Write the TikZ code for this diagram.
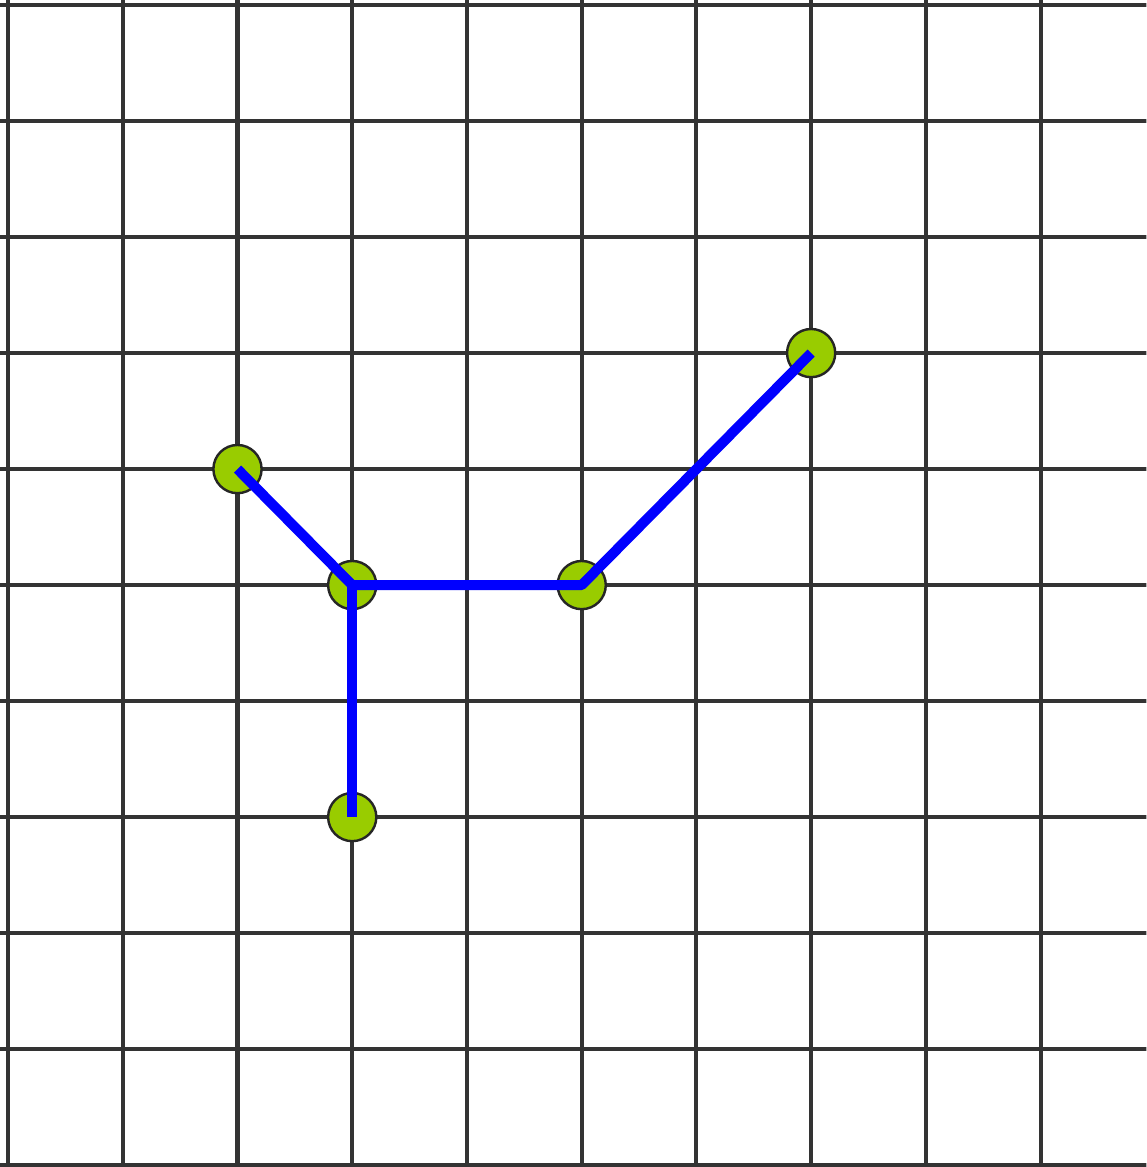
\documentclass[tikz,border=0pt]{standalone}
\usepackage{tikz}
\usetikzlibrary{arrows.meta}
\definecolor{gridgray}{HTML}{333333}
\definecolor{vertgreen}{HTML}{99CC00}
\definecolor{edgeblue}{HTML}{0000FF}
\tikzset{
  every picture/.style={line join=round, >=Stealth},
  gridline/.style={line width=1pt, draw=gridgray},
  vertex/.style={circle, fill=vertgreen, draw=black!85, line width=0.6pt, minimum size=0.42cm, inner sep=0pt},
  edge/.style={line width=2.5pt, draw=edgeblue, line cap=butt},
}

\begin{document}
\begin{tikzpicture}[x=1cm,y=-1.011cm]
\clip(-0.07,-0.044)rectangle(9.921,10.017);
\useasboundingbox(-0.07,-0.044)rectangle(9.921,10.017);
\fill[white](-0.07,-0.044)rectangle(9.921,10.017);
\foreach \i in {0,...,10}{
  \draw[gridline](\i,-0.5)--(\i,10.5);
  \draw[gridline](-0.5,\i)--(10.5,\i);
}
\node[vertex](a)at(2,4){};
\node[vertex](b)at(3,5){};
\node[vertex](c)at(5,5){};
\node[vertex](d)at(7,3){};
\node[vertex](e)at(3,7){};
\draw[edge](a.center)--(b.center)--(c.center)--(d.center);
\draw[edge](b.center)--(e.center);
\end{tikzpicture}
\end{document}
